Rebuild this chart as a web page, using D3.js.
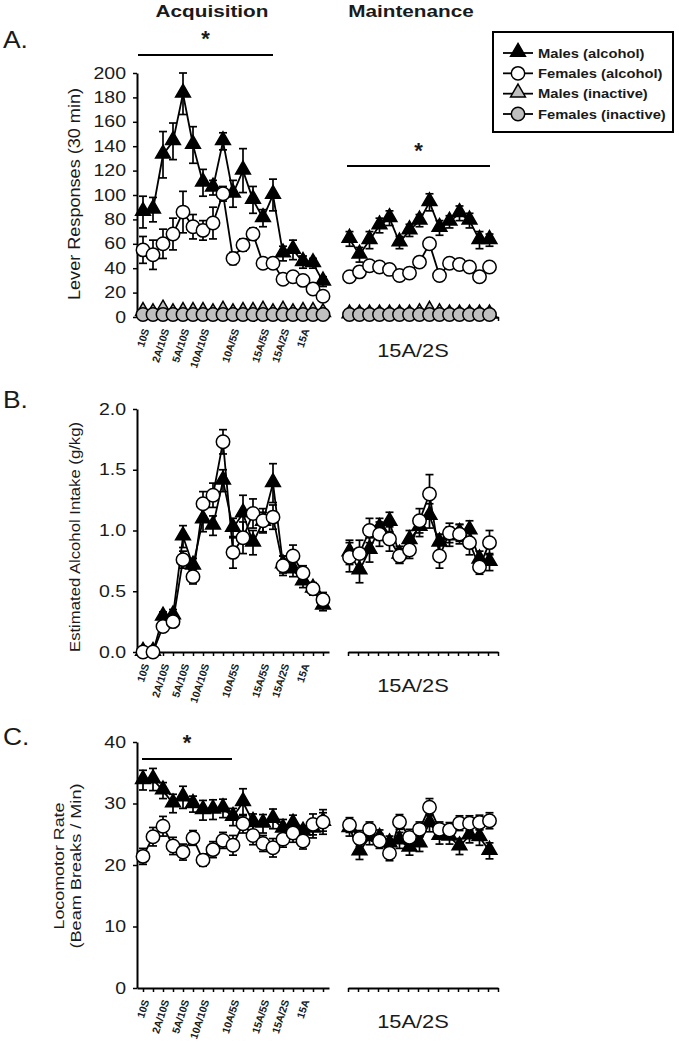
<!DOCTYPE html>
<html>
<head>
<meta charset="utf-8">
<script src="https://cdn.jsdelivr.net/npm/d3@7"></script>
<style>
  body { margin: 0; background: #fff; }
  text { font-family: Arial, "Liberation Sans", sans-serif; fill: #1a1a1a; }
</style>
</head>
<body>
<svg id="chart" width="679" height="1050"></svg>
<script>
// categories
var acqLabels = ["10S", "", "2A/10S", "", "5A/10S", "", "10A/10S", "", "", "10A/5S", "", "",
                 "15A/5S", "", "15A/2S", "", "15A", "", ""];
var maintCount = 15;
var maintLabel = "15A/2S";

// A. lever responses
var leverMaleAcq      = [86, 88, 133, 144, 183, 141, 110, 106, 144, 101, 120, 96, 81, 100, 52, 55, 45, 44, 29];
var leverMaleAcqSem   = [13, 10, 19, 15, 17, 15, 11, 6, 7, 11, 18, 11, 7, 13, 6, 8, 5, 4, 4];
var leverFemaleAcq    = [55, 51, 60, 68, 86, 74, 71, 77, 101, 48, 59, 68, 44, 44, 31, 33, 30, 23, 17];
var leverFemaleAcqSem = [11, 12, 12, 13, 17, 10, 8, 13, 6, 5, 5, 5, 3, 3, 3, 3, 3, 3, 3];
var leverMaleInAcq    = [4, 3, 6, 3, 4, 4, 4, 3, 5, 3, 4, 4, 5, 3, 5, 3, 4, 4, 3];
var leverFemaleInAcq  = [2, 2, 2, 2, 2, 2, 2, 2, 2, 2, 2, 2, 2, 2, 2, 2, 2, 2, 2];
var leverMaleMaint      = [64, 51, 63, 75, 81, 61, 71, 79, 94, 73, 78, 85, 79, 63, 63];
var leverMaleMaintSem   = [6, 6, 7, 6, 6, 5, 5, 5, 7, 6, 5, 6, 6, 7, 5];
var leverFemaleMaint    = [33, 37, 42, 41, 39, 34, 36, 45, 60, 34, 44, 43, 41, 33, 41];
var leverFemaleMaintSem = [3, 3, 3, 3, 3, 3, 3, 3, 4, 3, 3, 3, 3, 3, 3];
var leverMaleInMaint    = [2, 2, 2, 2, 2, 2, 2, 3, 5, 3, 2, 2, 2, 2, 2];
var leverFemaleInMaint  = [2, 2, 2, 2, 2, 2, 2, 2, 2, 2, 2, 2, 2, 2, 2];

// B. estimated alcohol intake
var intakeMaleAcq      = [0, 0, 0.29, 0.30, 0.95, 0.71, 1.09, 1.04, 1.41, 1.02, 1.14, 0.90, 1.07, 1.39, 0.72, 0.68, 0.58, 0.52, 0.38];
var intakeMaleAcqSem   = [0, 0, 0.04, 0.05, 0.09, 0.06, 0.10, 0.08, 0.09, 0.08, 0.15, 0.10, 0.08, 0.16, 0.07, 0.06, 0.05, 0.05, 0.04];
var intakeFemaleAcq    = [0, 0, 0.21, 0.25, 0.76, 0.62, 1.22, 1.29, 1.73, 0.82, 0.94, 1.14, 1.08, 1.11, 0.71, 0.79, 0.65, 0.52, 0.43];
var intakeFemaleAcqSem = [0, 0, 0.04, 0.04, 0.07, 0.06, 0.10, 0.10, 0.10, 0.13, 0.13, 0.12, 0.10, 0.10, 0.08, 0.09, 0.06, 0.05, 0.06];
var intakeMaleMaint      = [0.82, 0.67, 0.84, 1.02, 1.07, 0.80, 0.92, 1.03, 1.12, 0.90, 0.95, 0.98, 1.00, 0.76, 0.74];
var intakeMaleMaintSem   = [0.10, 0.10, 0.10, 0.08, 0.08, 0.07, 0.08, 0.08, 0.10, 0.07, 0.08, 0.07, 0.08, 0.07, 0.07];
var intakeFemaleMaint    = [0.78, 0.81, 1.00, 0.97, 0.93, 0.79, 0.84, 1.08, 1.30, 0.79, 0.98, 0.97, 0.90, 0.70, 0.90];
var intakeFemaleMaintSem = [0.12, 0.11, 0.10, 0.10, 0.10, 0.06, 0.07, 0.10, 0.16, 0.10, 0.08, 0.08, 0.10, 0.06, 0.10];

// C. locomotor rate
var locoMaleAcq      = [33.8, 33.9, 32.1, 30.0, 31.0, 29.9, 28.9, 29.0, 29.2, 27.8, 30.2, 27.0, 26.7, 27.5, 25.9, 26.7, 25.4, 25.9, 27.0];
var locoMaleAcqSem   = [1.6, 1.8, 1.3, 1.5, 1.8, 1.3, 1.6, 1.6, 1.5, 1.4, 2.2, 1.3, 1.5, 1.6, 1.5, 1.4, 1.0, 1.5, 1.5];
var locoFemaleAcq    = [21.4, 24.6, 26.3, 23.1, 22.1, 24.4, 20.8, 22.5, 24.0, 23.2, 26.7, 24.8, 23.5, 22.8, 24.2, 25.2, 23.9, 26.6, 27.0];
var locoFemaleAcqSem = [1.3, 1.5, 1.6, 1.4, 1.3, 1.2, 1.0, 1.3, 1.3, 1.6, 1.5, 1.5, 1.3, 1.5, 1.3, 1.5, 1.3, 1.7, 2.0];
var locoMaleMaint      = [26.0, 22.2, 24.5, 24.4, 23.5, 24.0, 22.8, 23.5, 26.8, 24.7, 24.6, 23.0, 24.8, 24.5, 22.3];
var locoMaleMaintSem   = [1.3, 1.3, 1.2, 1.3, 1.2, 1.3, 1.2, 1.3, 1.4, 1.3, 1.2, 1.3, 1.2, 1.3, 1.3];
var locoFemaleMaint    = [26.5, 24.3, 25.8, 23.9, 21.9, 27.0, 24.5, 25.8, 29.4, 25.8, 25.7, 26.8, 26.8, 26.9, 27.2];
var locoFemaleMaintSem = [1.2, 1.3, 1.2, 1.2, 1.2, 1.2, 1.3, 1.2, 1.4, 1.2, 1.2, 1.2, 1.2, 1.2, 1.3];

var legendLabels = ["Males (alcohol)", "Females (alcohol)", "Males (inactive)", "Females (inactive)"];

var SX = 1.22;  // the source figure is stretched sideways
var svg = d3.select("#chart");

var xAcq = d3.scaleLinear().domain([0, 19.2]).range([137, 329]);
var xMaint = d3.scaleLinear().domain([0, 15]).range([348, 498]);
var acqX = function (i) { return xAcq(i + 0.6); };
var maintX = function (i) { return xMaint(i + 0.15); };

var triangle = d3.symbol().type(d3.symbolTriangle).size(95);
var circle = d3.symbol().type(d3.symbolCircle).size(Math.PI * 6.7 * 6.7);

var hText = function (g, str, x, y, size, opts) {
  opts = opts || {};
  return g.append("text")
    .attr("transform", "translate(" + x + "," + y + ") scale(" + (opts.sx || SX) + ",1)")
    .attr("text-anchor", opts.anchor || "start")
    .attr("font-size", size)
    .attr("font-weight", opts.bold ? "bold" : null)
    .text(str);
};

var drawSeries = function (g, vals, sems, xf, y, shape, fill) {
  var pts = vals.map(function (v, i) { return { x: xf(i), v: v, s: sems ? sems[i] : 0 }; });
  if (sems) {
    var eb = g.append("g").attr("stroke", "#000").attr("stroke-width", 1.7);
    pts.forEach(function (p) {
      if (!p.s) return;
      var y0 = y(p.v - p.s), y1 = y(p.v + p.s);
      eb.append("line").attr("x1", p.x).attr("x2", p.x).attr("y1", y0).attr("y2", y1);
      eb.append("line").attr("x1", p.x - 4).attr("x2", p.x + 4).attr("y1", y1).attr("y2", y1);
      eb.append("line").attr("x1", p.x - 4).attr("x2", p.x + 4).attr("y1", y0).attr("y2", y0);
    });
  }
  g.append("path")
    .datum(pts)
    .attr("fill", "none")
    .attr("stroke", "#000")
    .attr("stroke-width", 1.8)
    .attr("d", d3.line().x(function (d) { return d.x; }).y(function (d) { return y(d.v); }));
  var m = g.append("g").selectAll("path").data(pts).join("path")
    .attr("fill", fill)
    .attr("stroke", "#000")
    .attr("stroke-width", 1.5);
  if (shape === "tri") {
    m.attr("d", triangle).attr("transform", function (d) { return "translate(" + d.x + "," + (y(d.v) - 1) + ")"; });
  } else {
    m.attr("d", circle).attr("transform", function (d) { return "translate(" + d.x + "," + y(d.v) + ")"; });
  }
};

var drawAxes = function (g, y, ticks, fmt) {
  var ya = g.append("g").attr("transform", "translate(137,0)")
    .call(d3.axisLeft(y).tickValues(ticks).tickFormat(fmt).tickSize(4).tickSizeOuter(0).tickPadding(7));
  ya.select(".domain").attr("stroke-width", 2);
  ya.selectAll(".tick line").attr("stroke-width", 1.5);
  ya.selectAll(".tick text").attr("font-size", 16).attr("font-family", null)
    .attr("transform", "scale(" + SX + ",1)").attr("x", -11 / SX);

  var base = y.range()[0];
  var xa = g.append("g").attr("transform", "translate(0," + base + ")")
    .call(d3.axisBottom(xAcq)
      .tickValues(d3.range(acqLabels.length).map(function (i) { return i + 0.6; }))
      .tickFormat(function (v) { return acqLabels[Math.round(v - 0.6)]; })
      .tickSize(4).tickSizeOuter(0));
  xa.select(".domain").attr("stroke-width", 2);
  xa.selectAll(".tick line").attr("stroke-width", 1.5);
  xa.selectAll(".tick text")
    .attr("font-size", 10.5).attr("font-weight", "bold").attr("font-family", null)
    .attr("text-anchor", "end").attr("x", 0).attr("y", 0).attr("dy", 0)
    .attr("transform", "translate(6,13) rotate(-72)");

  var xm = g.append("g").attr("transform", "translate(0," + base + ")")
    .call(d3.axisBottom(xMaint).tickValues(d3.range(maintCount + 1)).tickFormat("").tickSize(4).tickSizeOuter(0));
  xm.select(".domain").attr("stroke-width", 2);
  xm.selectAll(".tick line").attr("stroke-width", 1.5);
  hText(g, maintLabel, 413, base + 40, 19, { anchor: "middle", sx: 1.15 });
};

var sigBar = function (g, x0, x1, yLine, yStar) {
  g.append("line").attr("x1", x0).attr("x2", x1).attr("y1", yLine).attr("y2", yLine)
    .attr("stroke", "#000").attr("stroke-width", 2);
  hText(g, "*", (x0 + x1) / 2, yStar, 22, { anchor: "middle", bold: true, sx: 1 });
};

var yLabel = function (g, lines, x, yc, size, len) {
  lines.forEach(function (str, k) {
    g.append("text")
      .attr("transform", "translate(" + (x + k * 17) + "," + yc + ") rotate(-90)")
      .attr("text-anchor", "middle")
      .attr("font-size", size)
      .attr("textLength", len[k])
      .attr("lengthAdjust", "spacingAndGlyphs")
      .text(str);
  });
};

// column headers
hText(svg, "Acquisition", 212, 17, 17, { anchor: "middle", bold: true });
hText(svg, "Maintenance", 411, 17, 17, { anchor: "middle", bold: true });

// ---- panel A
var yA = d3.scaleLinear().domain([0, 200]).range([317, 73]);
var gA = svg.append("g");
hText(gA, "A.", 3, 48, 24, { sx: 1.1 });
yLabel(gA, ["Lever Responses (30 min)"], 80, 194, 16, [212]);
drawAxes(gA, yA, d3.range(0, 201, 20), d3.format("d"));
sigBar(gA, 138, 273, 55, 46);
sigBar(gA, 347, 490, 166, 158);
drawSeries(gA, leverMaleAcq, leverMaleAcqSem, acqX, yA, "tri", "#000");
drawSeries(gA, leverFemaleAcq, leverFemaleAcqSem, acqX, yA, "circ", "#fff");
drawSeries(gA, leverMaleInAcq, null, acqX, yA, "tri", "#bfbfbf");
drawSeries(gA, leverFemaleInAcq, null, acqX, yA, "circ", "#bfbfbf");
drawSeries(gA, leverMaleMaint, leverMaleMaintSem, maintX, yA, "tri", "#000");
drawSeries(gA, leverFemaleMaint, leverFemaleMaintSem, maintX, yA, "circ", "#fff");
drawSeries(gA, leverMaleInMaint, null, maintX, yA, "tri", "#bfbfbf");
drawSeries(gA, leverFemaleInMaint, null, maintX, yA, "circ", "#bfbfbf");

// legend
var lg = svg.append("g");
lg.append("rect").attr("x", 493).attr("y", 32).attr("width", 180).attr("height", 100)
  .attr("fill", "#fff").attr("stroke", "#000").attr("stroke-width", 2);
var legendStyle = [["tri", "#000"], ["circ", "#fff"], ["tri", "#bfbfbf"], ["circ", "#bfbfbf"]];
var legendY = d3.scalePoint().domain(legendLabels).range([53, 114]);
legendLabels.forEach(function (lab, k) {
  var yy = legendY(lab);
  lg.append("line").attr("x1", 503).attr("x2", 533).attr("y1", yy).attr("y2", yy)
    .attr("stroke", "#000").attr("stroke-width", 1.8);
  var mk = lg.append("path").attr("fill", legendStyle[k][1]).attr("stroke", "#000").attr("stroke-width", 1.5);
  if (legendStyle[k][0] === "tri") {
    mk.attr("d", triangle).attr("transform", "translate(518," + (yy - 1) + ")");
  } else {
    mk.attr("d", circle).attr("transform", "translate(518," + yy + ")");
  }
  hText(lg, lab, 538, yy + 4.5, 12.5, { bold: true, sx: 1.18 });
});

// ---- panel B
var yB = d3.scaleLinear().domain([0, 2]).range([652, 409]);
var gB = svg.append("g");
hText(gB, "B.", 3, 408, 24, { sx: 1.1 });
yLabel(gB, ["Estimated Alcohol Intake  (g/kg)"], 80, 537, 15, [230]);
drawAxes(gB, yB, [0, 0.5, 1, 1.5, 2], d3.format(".1f"));
drawSeries(gB, intakeMaleAcq, intakeMaleAcqSem, acqX, yB, "tri", "#000");
drawSeries(gB, intakeFemaleAcq, intakeFemaleAcqSem, acqX, yB, "circ", "#fff");
drawSeries(gB, intakeMaleMaint, intakeMaleMaintSem, maintX, yB, "tri", "#000");
drawSeries(gB, intakeFemaleMaint, intakeFemaleMaintSem, maintX, yB, "circ", "#fff");

// ---- panel C
var yC = d3.scaleLinear().domain([0, 40]).range([988, 742]);
var gC = svg.append("g");
hText(gC, "C.", 3, 745, 24, { sx: 1.1 });
yLabel(gC, ["Locomotor Rate", "(Beam Breaks / Min)"], 64, 866, 15, [127, 165]);
drawAxes(gC, yC, [0, 10, 20, 30, 40], d3.format("d"));
sigBar(gC, 142, 232, 759, 750);
drawSeries(gC, locoMaleAcq, locoMaleAcqSem, acqX, yC, "tri", "#000");
drawSeries(gC, locoFemaleAcq, locoFemaleAcqSem, acqX, yC, "circ", "#fff");
drawSeries(gC, locoMaleMaint, locoMaleMaintSem, maintX, yC, "tri", "#000");
drawSeries(gC, locoFemaleMaint, locoFemaleMaintSem, maintX, yC, "circ", "#fff");
</script>
</body>
</html>
